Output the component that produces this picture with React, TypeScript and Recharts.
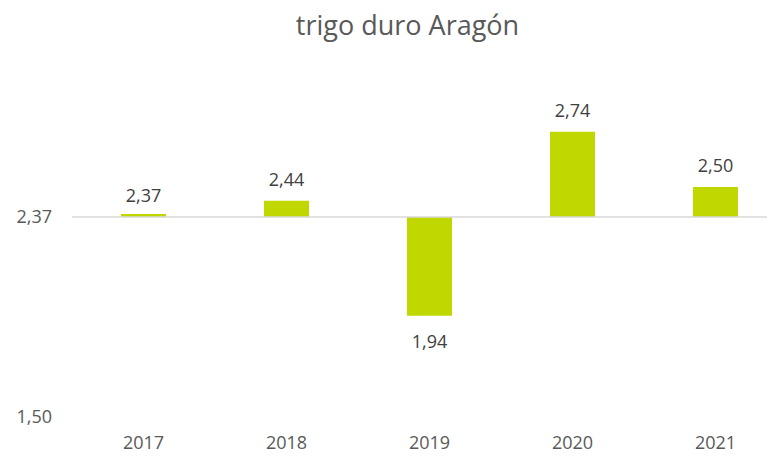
import React from "react";
import { ComposedChart, Bar, Line, XAxis, YAxis, ReferenceLine, LabelList } from "recharts";

const years = ["2017", "2018", "2019", "2020", "2021"];
const prices = [2.37, 2.44, 1.94, 2.74, 2.5];
const baseline = 2.37;
const yTicks = [1.5, 2.37];

const data = years.map((year, i) => ({
  year,
  price: prices[i],
  range: [baseline, prices[i]],
}));

const fmt = (v: number) => v.toFixed(2).replace(".", ",");
const font = "'Open Sans', sans-serif";

// label goes above the bar when it rises, below when it drops
const BarLabel = (props: any) => {
  const { x, y, value } = props;
  const below = value < baseline;
  return (
    <text
      x={x}
      y={below ? y + 25 : y - 22}
      textAnchor="middle"
      dominantBaseline="central"
      fill="#404040"
      fontSize={18}
      fontFamily={font}
    >
      {fmt(value)}
    </text>
  );
};

const App = () => {
  return (
    <div style={{ position: "relative", margin: -8, width: 775, height: 457, overflow: "hidden", background: "#fff" }}>
      <div
        style={{
          position: "absolute",
          top: 6,
          left: 0,
          width: 815,
          textAlign: "center",
          fontFamily: font,
          fontSize: 27,
          color: "#595959",
        }}
      >
        trigo duro Aragón
      </div>
      <ComposedChart width={800} height={457} data={data} margin={{ top: 95, right: 13, bottom: 0, left: 0 }}>
        <XAxis
          dataKey="year"
          axisLine={false}
          tickLine={false}
          tickSize={0}
          tickMargin={19}
          height={40}
          tick={{ fill: "#595959", fontSize: 18, fontFamily: font }}
        />
        <YAxis
          domain={[1.5, 2.9]}
          ticks={yTicks}
          axisLine={false}
          tickLine={false}
          tickSize={0}
          tickMargin={20}
          width={72}
          tickFormatter={fmt}
          tick={{ fill: "#595959", fontSize: 18, fontFamily: font }}
        />
        <ReferenceLine y={baseline} stroke="#d9d9d9" strokeWidth={1.5} />
        <Bar dataKey="range" fill="#c0d800" barSize={45} minPointSize={3} isAnimationActive={false} />
        <Line dataKey="price" stroke="none" dot={false} activeDot={false} isAnimationActive={false}>
          <LabelList dataKey="price" content={<BarLabel />} />
        </Line>
      </ComposedChart>
    </div>
  );
};

export default App;
